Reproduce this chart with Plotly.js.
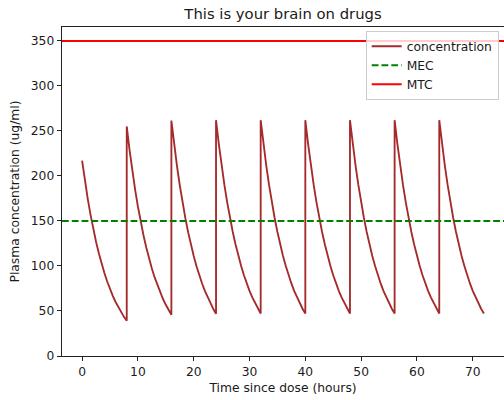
<!DOCTYPE html>
<html>
<head>
<meta charset="utf-8">
<script src="https://cdn.plot.ly/plotly-3.0.1.min.js"></script>
<style>html,body{margin:0;padding:0;background:#fff;}#chart{width:504px;height:400px;}</style>
</head>
<body>
<div id="chart"></div>
<script>
// Dose times (hours) and sample offsets within each dosing interval
const doseTimes = [0, 8, 16, 24, 32, 40, 48, 56, 64];
const hoursAfterDose = [0, 0.5, 1, 1.5, 2, 2.5, 3, 3.5, 4, 4.5, 5, 5.5, 6, 6.5, 7, 7.5, 8];

// Plasma concentration (ug/ml) read for each dosing interval
const concentrationByDose = [
  [217, 195.0, 175.2, 157.4, 141.4, 127.0, 114.1, 102.5, 92.1, 82.7, 74.3, 66.8, 60.0, 53.9, 48.4, 43.5, 39.1],
  [255, 229.1, 205.8, 184.9, 166.1, 149.2, 134.1, 120.5, 108.2, 97.2, 87.3, 78.5, 70.5, 63.3, 56.9, 51.1, 45.9],
  [261.6, 235.0, 211.2, 189.7, 170.4, 153.1, 137.6, 123.6, 111.0, 99.8, 89.6, 80.5, 72.3, 65.0, 58.4, 52.4, 47.0],
  [262, 235.4, 211.5, 190.0, 170.7, 153.3, 137.8, 123.8, 111.2, 99.9, 89.7, 80.6, 72.4, 65.1, 58.5, 52.5, 47.2],
  [262, 235.4, 211.5, 190.0, 170.7, 153.3, 137.8, 123.8, 111.2, 99.9, 89.7, 80.6, 72.4, 65.1, 58.5, 52.5, 47.2],
  [262, 235.4, 211.5, 190.0, 170.7, 153.3, 137.8, 123.8, 111.2, 99.9, 89.7, 80.6, 72.4, 65.1, 58.5, 52.5, 47.2],
  [262, 235.4, 211.5, 190.0, 170.7, 153.3, 137.8, 123.8, 111.2, 99.9, 89.7, 80.6, 72.4, 65.1, 58.5, 52.5, 47.2],
  [262, 235.4, 211.5, 190.0, 170.7, 153.3, 137.8, 123.8, 111.2, 99.9, 89.7, 80.6, 72.4, 65.1, 58.5, 52.5, 47.2],
  [262, 235.4, 211.5, 190.0, 170.7, 153.3, 137.8, 123.8, 111.2, 99.9, 89.7, 80.6, 72.4, 65.1, 58.5, 52.5, 47.2]
];

const MEC = 150;   // minimum effective concentration
const MTC = 350;   // minimum toxic concentration
const xRange = [-3.6, 75.6];
const yRange = [0, 365.5];
const xTicks = [0, 10, 20, 30, 40, 50, 60, 70];
const yTicks = [0, 50, 100, 150, 200, 250, 300, 350];

const tx = [], ty = [];
doseTimes.forEach((d, i) => {
  hoursAfterDose.forEach((h, j) => {
    tx.push(d + h);
    ty.push(concentrationByDose[i][j]);
  });
});

const font = {family: 'DejaVu Sans, sans-serif', size: 12.3, color: '#1a1a1a'};

const traces = [
  {x: tx, y: ty, mode: 'lines', name: 'concentration',
   line: {color: '#a52a2a', width: 1.85}},
  {x: xRange, y: [MEC, MEC], mode: 'lines', name: 'MEC',
   line: {color: '#008000', width: 1.85, dash: '6.8px,3px'}},
  {x: xRange, y: [MTC, MTC], mode: 'lines', name: 'MTC',
   line: {color: '#ff0000', width: 1.85}}
];

const axisCommon = {
  showgrid: false, zeroline: false, showline: true, mirror: true,
  linecolor: '#222', linewidth: 1, ticks: 'outside', ticklen: 4.3,
  tickwidth: 1, tickcolor: '#222', tickfont: font
};

const layout = {
  width: 504, height: 400,
  margin: {l: 62, r: 0.3, t: 27, b: 43.5, pad: 0},
  paper_bgcolor: '#fff', plot_bgcolor: '#fff',
  font: font,
  title: {text: 'This is your brain on drugs', font: {family: 'DejaVu Sans, sans-serif', size: 14.8, color: '#1a1a1a'},
          x: 0.5, xref: 'paper', y: 1, yref: 'paper', yanchor: 'bottom', pad: {b: 8}},
  xaxis: Object.assign({}, axisCommon, {
    range: xRange, tickvals: xTicks, ticktext: xTicks.map(String),
    title: {text: 'Time since dose (hours)', font: font, standoff: 5}
  }),
  yaxis: Object.assign({}, axisCommon, {
    range: yRange, tickvals: yTicks, ticktext: yTicks.map(String),
    title: {text: 'Plasma concentration (ug/ml)', font: font, standoff: 8}
  }),
  showlegend: true,
  legend: {
    x: 0.988, xanchor: 'right', y: 0.9885, yanchor: 'top',
    bgcolor: 'rgba(255,255,255,0.8)', bordercolor: '#cccccc', borderwidth: 1,
    font: font, tracegroupgap: 0
  }
};

Plotly.newPlot('chart', traces, layout, {displayModeBar: false, staticPlot: true});
</script>
</body>
</html>
